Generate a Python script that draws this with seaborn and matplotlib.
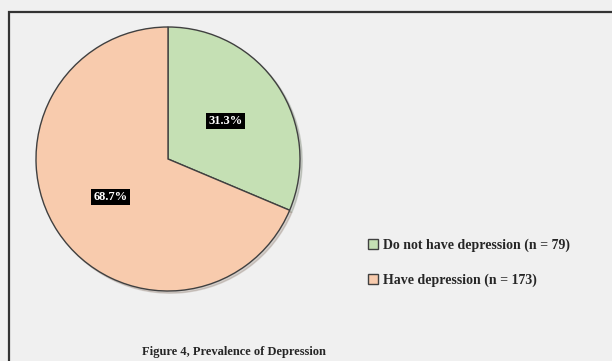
import matplotlib
matplotlib.use("Agg")
import matplotlib.pyplot as plt
import matplotlib.patches as mpatches
import seaborn as sns

# data
labels = ["Do not have depression (n = 79)", "Have depression (n = 173)"]
counts = [79, 173]
colors = ["#c5e0b4", "#f8cbad"]
caption = "Figure 4, Prevalence of Depression"

sns.set_style("white")
plt.rcParams["font.family"] = ["Liberation Serif", "DejaVu Serif"]

fig = plt.figure(figsize=(6.12, 3.61), dpi=100, facecolor="#f0f0f0")

# outer frame (right/bottom edges fall outside the picture)
frame = mpatches.Rectangle((8.5 / 612, -0.1), 1.2, 1 - 11.5 / 361 + 0.1,
                           transform=fig.transFigure, fill=False,
                           edgecolor="#333333", linewidth=1.6, clip_on=False)
fig.patches.append(frame)

# pie axes: centre (168, 159) px, radius 132 px (limits pad 5%)
cx, cy, r = 168, 159, 132 * 1.05
ax = fig.add_axes([(cx - r) / 612, 1 - (cy + r) / 361, 2 * r / 612, 2 * r / 361])
ax.set_facecolor("none")

wedges, texts, autotexts = ax.pie(
    counts, colors=colors, startangle=90, counterclock=False,
    autopct="%1.1f%%", pctdistance=0.52,
    wedgeprops=dict(edgecolor="#404040", linewidth=1.0),
    shadow=dict(ox=0.012, oy=-0.012, shade=0.5, alpha=0.25),
)
for t in autotexts:
    t.set_color("white")
    t.set_fontweight("bold")
    t.set_fontsize(9)
    t.set_bbox(dict(facecolor="black", edgecolor="none", boxstyle="square,pad=0.18"))
ax.set_xlim(-1.05, 1.05)
ax.set_ylim(-1.05, 1.05)
ax.set_aspect("equal")
ax.axis("off")

fig.legend(wedges, labels, loc="center left",
           bbox_to_anchor=(361 / 612, 1 - 262.5 / 361),
           frameon=False, handlelength=0.7, handleheight=0.7,
           handletextpad=0.4, labelspacing=1.55, borderpad=0,
           prop=dict(weight="bold", size=10))

fig.text(234 / 612, 1 - 352 / 361, caption, ha="center", va="center",
         fontsize=9, fontweight="bold")

fig.savefig("out.png", dpi=100, facecolor=fig.get_facecolor())
